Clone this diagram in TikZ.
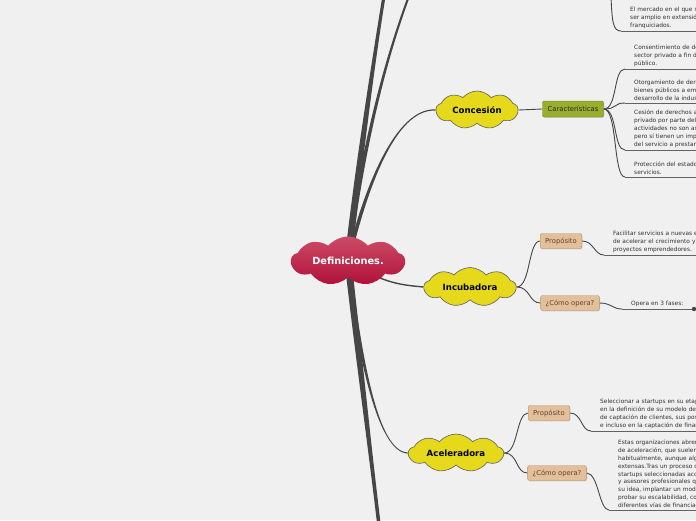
\documentclass[tikz,border=0pt]{standalone}
\usepackage{fontspec}
\setmainfont{DejaVu Sans}
\usepackage{xcolor}
\usepackage{tikz}
\usetikzlibrary{shapes.symbols, shadows, positioning, calc}
\definecolor{fondo}{HTML}{F0F0F0}
\definecolor{rama}{HTML}{464646}
\definecolor{rojoA}{HTML}{CC4C65}
\definecolor{rojoB}{HTML}{B0113A}
\definecolor{amarillo}{HTML}{E6D81A}
\definecolor{verde}{HTML}{9AAE2E}
\definecolor{verdeB}{HTML}{6C7B21}
\definecolor{salmon}{HTML}{E3BF9A}
\definecolor{salmonB}{HTML}{B3906C}
\definecolor{cafe}{HTML}{5E4632}
\pgfdeclarelayer{capafondo}
\pgfdeclarelayer{ramas}
\pgfsetlayers{capafondo,ramas,main}

\begin{document}
\begin{tikzpicture}[x=1pt, y=-1pt,
    raiz/.style={cloud, cloud puffs=9, cloud puff arc=100, cloud ignores aspect,
      minimum width=114pt, minimum height=49pt, inner sep=0pt,
      top color=rojoA, bottom color=rojoB, draw=none, text=white,
      font=\fontsize{9.8}{11}\selectfont\bfseries},
    tema/.style={cloud, cloud puffs=9, cloud puff arc=100, cloud ignores aspect,
      inner sep=0pt, fill=amarillo, draw=gray!75!black, line width=0.6pt,
      font=\fontsize{8.6}{10}\selectfont\bfseries},
    caja/.style={rectangle, rounded corners=2pt, minimum height=15pt,
      inner xsep=5pt, inner ysep=0pt, font=\fontsize{6.8}{8}\selectfont,
      drop shadow={opacity=0.3, shadow xshift=0.8pt, shadow yshift=-0.8pt}},
    caract/.style={caja, fill=verde, draw=verdeB, text=black!85,
      minimum width=61pt, minimum height=16pt},
    sub/.style={caja, fill=salmon, draw=salmonB, text=cafe},
    nota/.style={anchor=south west, text width=200pt, align=left,
      inner xsep=9pt, inner ysep=2.5pt, text=black!80,
      font=\fontsize{5.85}{7.8}\selectfont},
    tronco/.style={fill=rama},
    conector/.style={draw=rama, line width=0.9pt},
    subraya/.style={draw=rama!85, line width=1pt}
  ]
  \useasboundingbox (0,0) rectangle (696,520);
  \begin{pgfonlayer}{capafondo}
    \fill[fondo] (0,0) rectangle (696,520);
  \end{pgfonlayer}

  % --- nodo central ---
  \node[raiz] (def) at (348,261) {Definiciones.};

  % --- temas ---
  \node[tema, minimum width=82pt, minimum height=38pt] (conc) at (477,110) {Concesión};
  \node[tema, minimum width=92pt, minimum height=39pt] (incu) at (470,287) {Incubadora};
  \node[tema, minimum width=95pt, minimum height=38pt] (acel) at (456,453) {Aceleradora};

  % puntos fuera del borde
  \coordinate (arriba1) at (384,-4);
  \coordinate (arriba2) at (409,-4);
  \coordinate (abajo1) at (379,525);
  \coordinate (mercin) at (611,-4);

  % --- Concesión ---
  \node[caract] (car) at (573,109) {Características};
  \node[nota] (merc) at (621,31) {El mercado en el que se opera suele\\ser amplio en extensión para los\\franquiciados.};
  \node[nota] (ca) at (625,69) {Consentimiento de derechos al\\sector privado a fin de ofrecer un\\público.};
  \node[nota] (cb) at (625,103) {Otorgamiento de derechos sobre\\bienes públicos a empresas para el\\desarrollo de la industria.};
  \node[nota] (cc) at (625,150) {Cesión de derechos al sector\\privado por parte del estado, cuyas\\actividades no son asociadas al estado\\pero sí tienen un impacto en la calidad\\del servicio a prestar.};
  \node[nota] (cd) at (625,177) {Protección del estado a los\\servicios.};

  % --- Incubadora ---
  \node[sub] (prop1) at (561,241) {Propósito};
  \node[sub] (oper1) at (570,303) {¿Cómo opera?};
  \node[nota] (np1) at (604,255) {Facilitar servicios a nuevas empresas con el fin\\de acelerar el crecimiento y el éxito de los\\proyectos emprendedores.};
  \node[nota] (no1) at (622,309) {Opera en 3 fases:};
  \coordinate (fases) at (694,309);
  \fill[rama] (fases) circle (2.2);

  % --- Aceleradora ---
  \node[sub] (prop2) at (549,413) {Propósito};
  \node[sub] (oper2) at (557,473) {¿Cómo opera?};
  \node[nota] (np2) at (591,431) {Seleccionar a startups en su etapa inicial y ayudarles\\en la definición de su modelo de negocio, estrategia\\de captación de clientes, sus posibles alianzas\\e incluso en la captación de financiación.};
  \node[nota] (no2) at (609,510) {Estas organizaciones abren convocatorias\\de aceleración, que suelen durar meses\\habitualmente, aunque algunas son más\\extensas.Tras un proceso de selección, las\\startups seleccionadas acceden a mentores\\y asesores profesionales que les ayudan a validar\\su idea, implantar un modelo de negocio,\\probar su escalabilidad, conectar con\\diferentes vías de financiación.};

  % --- ramas (se afinan hacia fuera) ---
  \begin{pgfonlayer}{ramas}
    \fill[tronco] ($(def.center)+(-3.5,0)$) .. controls (354.5,170) and (370.5,70) .. ($(arriba1)+(-1.6,0)$)
      -- ($(arriba1)+(1.6,0)$) .. controls (373.5,70) and (361.5,170) .. ($(def.center)+(3.5,0)$) -- cycle;
    \fill[tronco] ($(def.center)+(-2.2,0)$) .. controls (360,150) and (384,60) .. ($(arriba2)+(-1.1,0)$)
      -- ($(arriba2)+(1.1,0)$) .. controls (386,60) and (364,150) .. ($(def.center)+(2.2,0)$) -- cycle;
    \fill[tronco] ($(def.center)+(-3.5,0)$) .. controls (354.5,350) and (368.5,450) .. ($(abajo1)+(-1.8,0)$)
      -- ($(abajo1)+(1.8,0)$) .. controls (371.5,450) and (361.5,350) .. ($(def.center)+(3.5,0)$) -- cycle;
    \fill[tronco] ($(def.center)+(-2,0)$) .. controls (363,190) and (395,107.4) .. ($(conc.west)+(0,-0.6)$)
      -- ($(conc.west)+(0,0.6)$) .. controls (395,108.6) and (367,190) .. ($(def.center)+(2,0)$) -- cycle;
    \fill[tronco] ($(def.center)+(-2,0)$) .. controls (358,360) and (378,452.4) .. ($(acel.west)+(0,0.6)$)
      -- ($(acel.west)+(0,-0.6)$) .. controls (378,451.6) and (362,360) .. ($(def.center)+(2,0)$) -- cycle;
    \draw[draw=rama, line width=1.4pt] (def.center) .. controls (385,285) and (405,285) .. (incu.west);

    \draw[conector] (conc.east) -- (car.west);
    \draw[conector] (mercin) .. controls (612,22) and (613,31) .. (merc.south west);
    \foreach \n in {ca, cb, cc, cd}
      \draw[conector] (car.east) .. controls +(14,0) and +(-12,0) .. (\n.south west);
    \foreach \n in {merc, ca, cb, cc, cd, np1, np2, no2}
      \draw[subraya] (\n.south west) -- (\n.south east);
    \draw[subraya] (no1.south west) -- (fases);

    \draw[conector] (incu.east) .. controls +(14,0) and +(-12,0) .. (prop1.west);
    \draw[conector] (incu.east) .. controls +(14,0) and +(-12,0) .. (oper1.west);
    \draw[conector] (prop1.east) .. controls +(12,0) and +(-10,0) .. (np1.south west);
    \draw[conector] (oper1.east) .. controls +(12,0) and +(-10,0) .. (no1.south west);

    \draw[conector] (acel.east) .. controls +(14,0) and +(-12,0) .. (prop2.west);
    \draw[conector] (acel.east) .. controls +(14,0) and +(-12,0) .. (oper2.west);
    \draw[conector] (prop2.east) .. controls +(12,0) and +(-10,0) .. (np2.south west);
    \draw[conector] (oper2.east) .. controls +(12,0) and +(-10,0) .. (no2.south west);
  \end{pgfonlayer}
\end{tikzpicture}
\end{document}
